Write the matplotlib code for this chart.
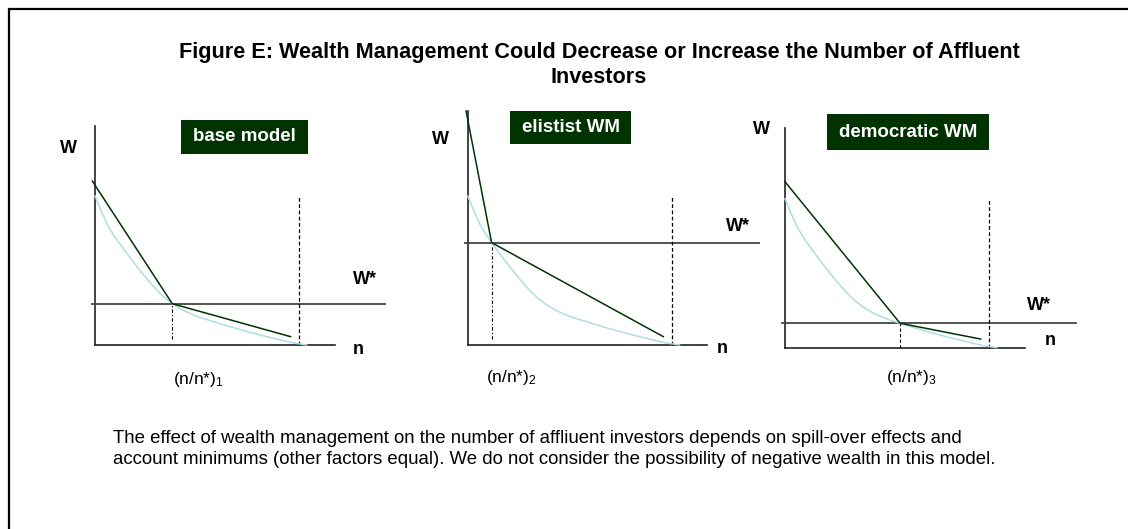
import matplotlib
matplotlib.use("Agg")
import matplotlib.pyplot as plt
from matplotlib.patches import Rectangle

plt.rcParams['font.family'] = ['Liberation Sans', 'DejaVu Sans']

# wealth distribution without wealth management (same in every panel)
base_n = [0.0, 0.03, 0.06, 0.09, 0.117, 0.15, 0.2, 0.25, 0.3, 0.34, 0.378, 0.43,
          0.48, 0.52, 0.563, 0.62, 0.68, 0.75, 0.82, 0.9, 0.97, 1.036]
base_w = [1.0, 0.90, 0.81, 0.74, 0.687, 0.625, 0.535, 0.45, 0.372, 0.318, 0.277, 0.233,
          0.203, 0.182, 0.164, 0.14, 0.115, 0.088, 0.063, 0.036, 0.014, 0.0]

panel_names = ['base model', 'elistist WM', 'democratic WM']
kink_n = [0.378, 0.117, 0.563]          # (n/n*)_i
w_star = [0.277, 0.687, 0.164]          # account minimum W*
green_start_n = [-0.013, -0.008, 0.0]
green_start_w = [1.10, 1.57, 1.114]
green_end_n = [0.957, 0.957, 0.957]
green_end_w = [0.056, 0.056, 0.058]
n_total = 1.0
sub_labels = ['(n/n*)$\\mathregular{_1}$', '(n/n*)$\\mathregular{_2}$', '(n/n*)$\\mathregular{_3}$']

# layout (pixels) -------------------------------------------------------
W_PX, H_PX = 1128, 529
UNIT_N, UNIT_W = 204.4, 149.0
origins = [(95, 345), (467.7, 345), (785, 347.7)]
yaxis_top = [1.473, 1.57, 1.475]
xaxis_end = [1.174, 1.171, 1.174]
wstar_span = [(-0.015, 1.42), (-0.013, 1.425), (-0.013, 1.422)]
kink_style = [(0, (3, 2, 1, 2)), (0, (3, 2, 1, 2)), (0, (3, 2))]
kink_bottom = [0.04, 0.04, 0.0]
boxes = [(0.421, 1.282, 0.620, 0.228), (0.207, 1.346, 0.592, 0.224), (0.207, 1.327, 0.790, 0.241)]
w_lab = [(-0.131, 1.287), (-0.132, 1.349), (-0.117, 1.432)]
wstar_lab = [(1.319, 0.409), (1.320, 0.765), (1.243, 0.253)]
n_lab = [(1.287, -0.060), (1.243, -0.056), (1.299, 0.018)]
sub_lab = [(0.380, -0.264), (0.090, -0.246), (0.494, -0.228)]

XMIN, XMAX = -0.25, 1.55
YMIN, YMAX = -0.35, 1.65

DARK_GREEN = '#003300'
LIGHT_BLUE = '#b0dde4'

fig = plt.figure(figsize=(W_PX / 100, H_PX / 100), dpi=100)

# outer frame, open to the right and bottom
fig.add_artist(Rectangle((8.5 / W_PX, -0.1), 1.2, (H_PX - 8.5) / H_PX + 0.1,
                         transform=fig.transFigure, fill=False,
                         edgecolor='black', lw=1.6))

fig.text(599 / W_PX, 1 - 58.3 / H_PX,
         'Figure E: Wealth Management Could Decrease or Increase the Number of Affluent',
         ha='center', va='baseline', fontsize=15.6, fontweight='bold')
fig.text(599 / W_PX, 1 - 83.3 / H_PX, 'Investors',
         ha='center', va='baseline', fontsize=15.6, fontweight='bold')

for i in range(3):
    ox, oy = origins[i]
    left = (ox + XMIN * UNIT_N) / W_PX
    bottom = (H_PX - oy + YMIN * UNIT_W) / H_PX
    ax = fig.add_axes([left, bottom, (XMAX - XMIN) * UNIT_N / W_PX,
                       (YMAX - YMIN) * UNIT_W / H_PX])
    ax.set_xlim(XMIN, XMAX)
    ax.set_ylim(YMIN, YMAX)
    ax.axis('off')

    # axes
    ax.plot([0, 0], [0, yaxis_top[i]], color='#222222', lw=1.2, clip_on=False)
    ax.plot([0, xaxis_end[i]], [0, 0], color='#222222', lw=1.2, clip_on=False)

    # account minimum
    ax.plot(wstar_span[i], [w_star[i], w_star[i]], color='#444444', lw=1.3, clip_on=False)

    # verticals at (n/n*) and at n*
    ax.plot([kink_n[i], kink_n[i]], [kink_bottom[i], w_star[i]], color='black',
            lw=0.8, linestyle=kink_style[i])
    ax.plot([n_total, n_total], [0, 1.0], color='black', lw=0.9, linestyle=(0, (3, 2)))

    ax.plot(base_n, base_w, color=LIGHT_BLUE, lw=1.1, clip_on=False)
    ax.plot([green_start_n[i], kink_n[i], green_end_n[i]],
            [green_start_w[i], w_star[i], green_end_w[i]],
            color=DARK_GREEN, lw=1.1, clip_on=False)

    bx, by, bw, bh = boxes[i]
    ax.add_patch(Rectangle((bx, by), bw, bh, facecolor=DARK_GREEN, edgecolor='none',
                           clip_on=False))
    ax.text(bx + bw / 2, by + bh / 2, panel_names[i], color='white', fontsize=13.5,
            fontweight='bold', ha='center', va='center')

    ax.text(*w_lab[i], 'W', fontsize=13, fontweight='bold', ha='center', va='baseline')
    ax.text(*wstar_lab[i], 'W*', fontsize=13, fontweight='bold', ha='center', va='baseline')
    ax.text(*n_lab[i], 'n', fontsize=13, fontweight='bold', ha='center', va='baseline')
    ax.text(*sub_lab[i], sub_labels[i], fontsize=12.5, ha='left', va='baseline')

fig.text(113.3 / W_PX, 1 - 443 / H_PX,
         'The effect of wealth management on the number of affliuent investors depends on spill-over effects and',
         ha='left', va='baseline', fontsize=13.45)
fig.text(113.3 / W_PX, 1 - 464 / H_PX,
         'account minimums (other factors equal). We do not consider the possibility of negative wealth in this model.',
         ha='left', va='baseline', fontsize=13.45)

fig.savefig('out.png', dpi=100)
